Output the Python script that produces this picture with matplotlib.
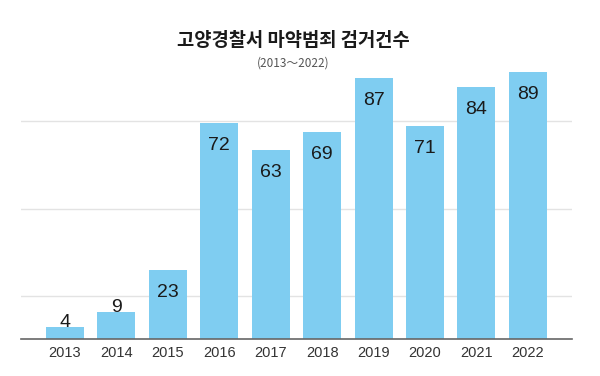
import matplotlib
matplotlib.use("Agg")
import matplotlib.pyplot as plt

years = ["2013", "2014", "2015", "2016", "2017", "2018", "2019", "2020", "2021", "2022"]
counts = [4, 9, 23, 72, 63, 69, 87, 71, 84, 89]
grid_levels = [14.3, 43.3, 72.7]

title = "고양경찰서 마약범죄 검거건수"
subtitle = "(2013～2022)"

bar_color = "#7fcdf1"
num_font = ["Liberation Sans", "DejaVu Sans"]
kr_font = ["Noto Sans CJK KR", "DejaVu Sans"]

fig = plt.figure(figsize=(6, 3.76), dpi=100)
ax = fig.add_axes([21 / 600, 1 - 339 / 376, 551 / 600, 300 / 376])

x = list(range(len(years)))
ax.bar(x, counts, width=0.74, color=bar_color, zorder=2)

for lvl in grid_levels:
    ax.axhline(lvl, color="#e3e3e3", linewidth=1, zorder=1)

for xi, v in zip(x, counts):
    # small bars get the label sitting on top, tall bars inside
    dy = -16 if v >= 20 else 3
    ax.annotate(str(v), (xi, v), xytext=(0, dy), textcoords="offset points",
                ha="center", va="center", fontsize=14, color="#1a1a1a",
                family=num_font, zorder=3)

ax.set_xlim(-0.856, 9.86)
ax.set_ylim(0, 100)
ax.set_xticks(x)
ax.set_xticklabels(years, family=num_font, fontsize=10.5, color="#333333")
ax.tick_params(axis="x", length=0, pad=5)
ax.set_yticks([])
for side in ["top", "right", "left"]:
    ax.spines[side].set_visible(False)
ax.spines["bottom"].set_color("#666666")
ax.spines["bottom"].set_linewidth(1.2)
ax.spines["bottom"].set_zorder(3)

fig.text(293 / 600, 1 - 40 / 376, title, ha="center", va="center",
         fontsize=13.5, family=kr_font, fontweight="bold", color="#1a1a1a")
fig.text(293 / 600, 1 - 63 / 376, subtitle, ha="center", va="center",
         fontsize=8.5, family=kr_font, fontweight="light", color="#555555")

fig.savefig("out.png", dpi=100)
